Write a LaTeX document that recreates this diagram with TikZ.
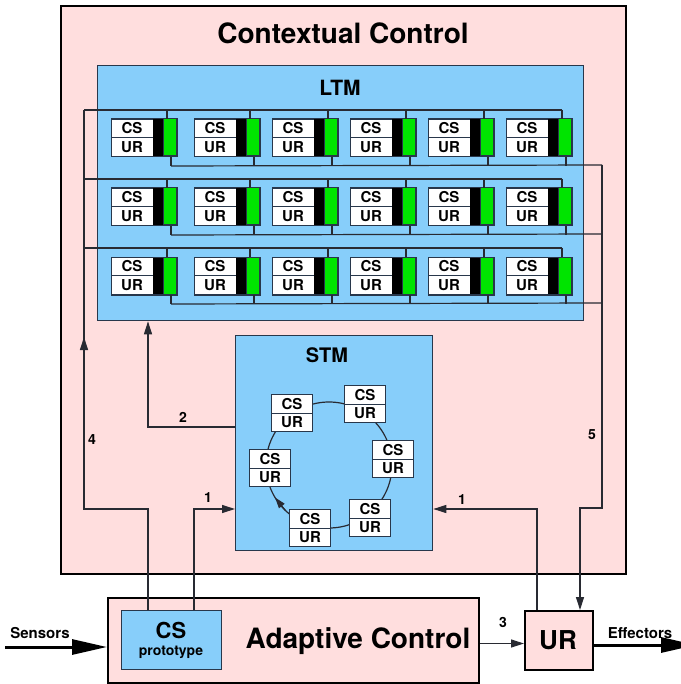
\documentclass[tikz,border=0pt]{standalone}
\usepackage{fontspec}
\setmainfont{TeX Gyre Heros}
\usetikzlibrary{arrows.meta,calc}

\definecolor{ccpink}{RGB}{255,222,222}
\definecolor{memblue}{RGB}{135,206,250}
\definecolor{tracegreen}{RGB}{0,228,0}
\definecolor{edgeblue}{RGB}{40,55,75}
\definecolor{wirecol}{RGB}{40,42,50}

\tikzset{
  wire/.style={draw=wirecol, line width=1.2pt},
  arr/.style={wire, -{Triangle[length=13pt,width=8pt]}},
  bigarr/.style={draw=black, line width=3pt, -{Triangle[length=35pt,width=15pt]}},
  membox/.style={draw=edgeblue, line width=1.3pt, fill=memblue, anchor=north west, inner sep=0pt},
  ctrlbox/.style={draw=black, line width=2pt, fill=ccpink, anchor=north west, inner sep=0pt},
  cellbox/.style={draw=edgeblue, line width=1pt, fill=white, inner sep=0pt},
  cellfont/.style={font=\fontsize{15}{15}\selectfont\bfseries, inner sep=0pt},
  numlabel/.style={font=\fontsize{14}{14}\selectfont\bfseries, inner sep=0pt},
  iolabel/.style={font=\fontsize{15}{15}\selectfont\bfseries, inner sep=0pt},
}

% one long-term memory cell: CS/UR record with its black and green bars
\newcommand\ltmcell[3]{%
  \node[cellbox, anchor=north west, minimum width=65pt, minimum height=37pt] (#1) at (#2,#3) {};
  \fill[black] (#2+42,#3) rectangle (#2+52,#3+37);
  \filldraw[fill=tracegreen, draw=edgeblue, line width=1pt] (#2+52,#3) rectangle (#2+65,#3+37);
  \draw[edgeblue, line width=1pt] (#2,#3+18.5) -- (#2+42,#3+18.5);
  \draw[edgeblue, line width=1pt] (#1.north west) rectangle (#1.south east);
  \node[cellfont] (#1-cs) at (#2+21,#3+9.5) {CS};
  \node[cellfont] (#1-ur) at (#2+21,#3+28) {UR};
}

% one short-term memory cell, given by its centre
\newcommand\stmcell[3]{%
  \node[cellbox, minimum width=41pt, minimum height=37pt] (#1) at (#2,#3) {};
  \draw[edgeblue, line width=1pt] (#1.west) -- (#1.east);
  \node[cellfont] (#1-cs) at (#2,#3-8.5) {CS};
  \node[cellfont] (#1-ur) at (#2,#3+9.5) {UR};
}

\begin{document}
\begin{tikzpicture}[x=1pt,y=-1pt]
\useasboundingbox (0,0) rectangle (680,684);
\fill[white] (0,0) rectangle (680,684);

% contextual control frame
\node[ctrlbox, minimum width=565pt, minimum height=568pt] (cc) at (60,5) {};
\node[font=\fontsize{28}{28}\selectfont\bfseries] (cctitle) at (343,33) {Contextual Control};

% long-term memory
\node[membox, minimum width=486pt, minimum height=255pt] (ltm) at (97,65) {};
\node[font=\fontsize{21}{21}\selectfont\bfseries] (ltmtitle) at (340,88) {LTM};

\coordinate (lbusTop) at (84,110);
\coordinate (rbusTop) at (602,165);

\foreach \r/\yt in {1/119,2/188,3/257}{
  \foreach \c/\xl in {1/111,2/194,3/272,4/350,5/428,6/506}{
    \ltmcell{L\r\c}{\xl}{\yt}
  }
  % row buses
  \draw[wire] (84,\yt-9) -- ($(L\r6.north west)+(56,-9)$);
  \draw[wire] ($(L\r1.south west)+(60,9)$) -- (602,\yt+46);
  \foreach \c in {1,...,6}{
    \draw[wire] ($(L\r\c.north west)+(56,-9)$) -- ($(L\r\c.north west)+(56,0)$);
    \draw[wire] ($(L\r\c.south west)+(60,0)$) -- ($(L\r\c.south west)+(60,9)$);
  }
}

% short-term memory
\node[membox, minimum width=197pt, minimum height=215pt] (stm) at (235,335) {};
\node[font=\fontsize{20}{20}\selectfont\bfseries] (stmtitle) at (327,355) {STM};
\coordinate (ring) at (329,465);
\draw[wire] (ring) circle[radius=63pt];
\draw[wire, -{Triangle[length=11pt,width=7pt]}] ($(ring)+(226:63pt)$) -- ($(ring)+(211:63pt)$);
\stmcell{SA}{292}{413}
\stmcell{SB}{365}{404}
\stmcell{SC}{393}{459}
\stmcell{SD}{370}{518}
\stmcell{SE}{310}{528}
\stmcell{SF}{270}{468}

% adaptive control
\node[ctrlbox, minimum width=371pt, minimum height=85pt] (adapt) at (107,597) {};
\node[draw=edgeblue, line width=1.3pt, fill=memblue, anchor=north west, inner sep=0pt,
      minimum width=100pt, minimum height=59pt] (proto) at (121,610) {};
\node[font=\fontsize{22}{22}\selectfont\bfseries] (protocs) at (171,630) {CS};
\node[font=\fontsize{14}{14}\selectfont\bfseries] (protoname) at (171,652) {prototype};
\node[font=\fontsize{28}{28}\selectfont\bfseries] (adapttitle) at (358,641) {Adaptive Control};

% unconditioned response
\node[ctrlbox, minimum width=68pt, minimum height=59pt] (ur) at (524,610) {};
\node[font=\fontsize{26}{26}\selectfont\bfseries] (urtitle) at (558,640) {UR};

% connectors
\draw[wire] ($(proto.north west)+(27,0)$) |- (84,509) -- (lbusTop);
\coordinate (up4a) at (84,352);
\coordinate (up4b) at (84,337);
\draw[arr] (up4a) -- (up4b);
\draw[arr] ($(stm.north west)+(0,92)$) -| ($(ltm.south west)+(51,0)$);
\draw[arr] ($(proto.north west)+(73,0)$) |- ($(stm.north west)+(0,174)$);
\draw[arr] ($(ur.north west)+(13,0)$) |- ($(stm.north east)+(0,174)$);
\draw[arr] (rbusTop) |- (580,508) -- ($(ur.north west)+(56,0)$);
\draw[arr] ($(adapt.east)+(0,3)$) -- ($(ur.west)+(0,3)$);

\node[numlabel] (n1a) at (208,498) {1};
\node[numlabel] (n2) at (183,417) {2};
\node[numlabel] (n4) at (92,440) {4};
\node[numlabel] (n1b) at (462,500) {1};
\node[numlabel] (n5) at (592,435) {5};
\node[numlabel] (n3) at (503,622) {3};

% sensors and effectors
\coordinate (sensIn) at (5,647);
\coordinate (effOut) at (696,645);
\draw[bigarr] (sensIn) -- (sensIn -| adapt.west);
\draw[bigarr] (ur.east |- effOut) -- (effOut);
\node[iolabel] (sens) at (40,633) {Sensors};
\node[iolabel] (eff) at (640,633) {Effectors};
\end{tikzpicture}
\end{document}
